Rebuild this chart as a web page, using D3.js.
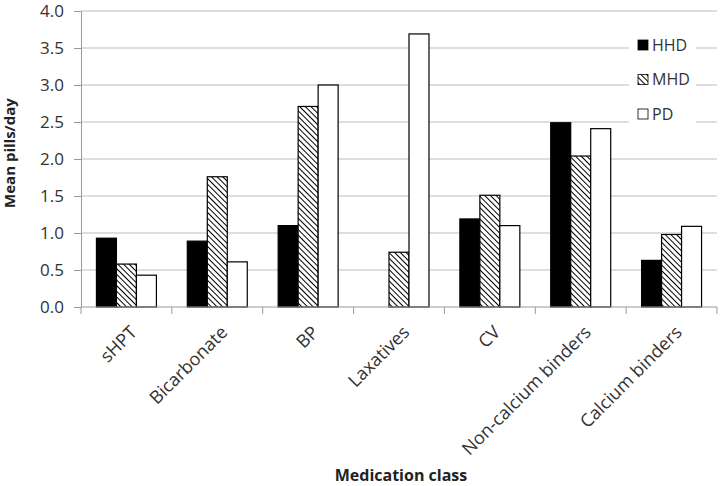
<!doctype html>
<html lang="en">
<head>
<meta charset="UTF-8">
<title>Mean pills/day by medication class</title>
<script src="https://d3js.org/d3.v7.min.js"></script>
<style>
body { margin: 0; background-color: #ffffff; font-family: "Open Sans", sans-serif; }
svg { display: block; }
.axis text { font-family: "Open Sans", sans-serif; font-size: 17px; fill: #333; }
.xlab text { font-size: 18px; }
.axis path, .axis line { stroke: #999; }
.grid line { stroke: #bdbdbd; }
</style>
</head>
<body>
<div id="plot"></div>
<script>

var categories = ["sHPT", "Bicarbonate", "BP", "Laxatives", "CV", "Non-calcium binders", "Calcium binders"];
var seriesNames = ["HHD", "MHD", "PD"];
var hhd = [0.93, 0.89, 1.10, 0, 1.19, 2.49, 0.63];
var mhd = [0.58, 1.76, 2.71, 0.74, 1.51, 2.04, 0.98];
var pd = [0.43, 0.61, 3.00, 3.69, 1.10, 2.41, 1.09];
var yTicks = [0, 0.5, 1, 1.5, 2, 2.5, 3, 3.5, 4];

var width = 720, height = 486;
var mLeft = 81, mRight = 717, mTop = 11, mBottom = 307;

var svg = d3.select("#plot").append("svg")
	.attr("width", width)
	.attr("height", height);

var defs = svg.append("defs");
var pat = defs.append("pattern")
	.attr("id", "hatch")
	.attr("patternUnits", "userSpaceOnUse")
	.attr("width", 4)
	.attr("height", 4)
	.attr("patternTransform", "rotate(-45)");
pat.append("rect").attr("width", 4).attr("height", 4).attr("fill", "#fff");
pat.append("line").attr("x1", 0).attr("y1", 0).attr("x2", 0).attr("y2", 4)
	.attr("stroke", "#000").attr("stroke-width", 2);

var fills = ["#000", "url(#hatch)", "#fff"];
var values = [hhd, mhd, pd];

var x0 = d3.scaleBand().domain(categories).range([mLeft, mRight]).paddingInner(0.34).paddingOuter(0.17);
var x1 = d3.scaleBand().domain(seriesNames).range([0, x0.bandwidth()]);
var xTick = d3.scaleBand().domain(categories).range([mLeft, mRight]);
var y = d3.scaleLinear().domain([0, 4]).range([mBottom, mTop]);

// gridlines
svg.append("g").attr("class", "grid")
	.selectAll("line").data(yTicks.slice(1)).enter().append("line")
	.attr("x1", mLeft).attr("x2", mRight)
	.attr("y1", function (d) { return y(d); })
	.attr("y2", function (d) { return y(d); });

// legend background hides gridlines behind it
svg.append("rect").attr("x", 629).attr("y", 30).attr("width", 67).attr("height", 96).attr("fill", "#fff");

// bars
categories.forEach(function (c, i) {
	seriesNames.forEach(function (s, j) {
		var v = values[j][i];
		if (v <= 0) return;
		svg.append("rect")
			.attr("x", x0(c) + x1(s))
			.attr("y", y(v))
			.attr("width", x1.bandwidth())
			.attr("height", y(0) - y(v))
			.attr("fill", fills[j])
			.attr("stroke", "#000")
			.attr("stroke-width", 1.2);
	});
});

// y axis
svg.append("g").attr("class", "axis")
	.attr("transform", "translate(" + mLeft + ",0)")
	.call(d3.axisLeft(y).tickValues(yTicks).tickFormat(d3.format(".1f")).tickSize(7).tickSizeOuter(0).tickPadding(10));

// x axis: ticks at category boundaries
var xg = svg.append("g").attr("class", "axis xlab")
	.attr("transform", "translate(0," + mBottom + ")");
xg.append("line").attr("x1", mLeft).attr("x2", mRight).attr("y1", 0).attr("y2", 0).attr("stroke", "#999");
xg.selectAll("line.tk").data(categories.concat([null])).enter().append("line")
	.attr("class", "tk")
	.attr("x1", function (d, i) { return mLeft + i * xTick.step(); })
	.attr("x2", function (d, i) { return mLeft + i * xTick.step(); })
	.attr("y1", 0).attr("y2", 7);
xg.selectAll("text").data(categories).enter().append("text")
	.attr("text-anchor", "end")
	.attr("transform", function (d) {
		return "translate(" + (xTick(d) + xTick.bandwidth() / 2 + 7) + ",22) rotate(-45)";
	})
	.attr("dy", "0.35em")
	.text(function (d) { return d; });

// axis titles
svg.append("text")
	.attr("transform", "translate(15," + 153 + ") rotate(-90)")
	.attr("text-anchor", "middle")
	.style("font-size", "15px")
	.style("font-weight", "bold")
	.style("fill", "#222")
	.text("Mean pills/day");

svg.append("text")
	.attr("x", 401)
	.attr("y", 481)
	.attr("text-anchor", "middle")
	.style("font-size", "16px")
	.style("font-weight", "bold")
	.style("fill", "#222")
	.text("Medication class");

// legend
var lg = svg.append("g");
seriesNames.forEach(function (s, j) {
	var ly = 45 + j * 34.5;
	lg.append("rect").attr("x", 638).attr("y", ly - 5).attr("width", 10).attr("height", 10)
		.attr("fill", fills[j]).attr("stroke", "#000").attr("stroke-width", 0.8);
	lg.append("text").attr("x", 652).attr("y", ly).attr("dy", "0.35em")
		.style("font-size", "16px").style("fill", "#333").text(s);
});

</script>
</body>
</html>
